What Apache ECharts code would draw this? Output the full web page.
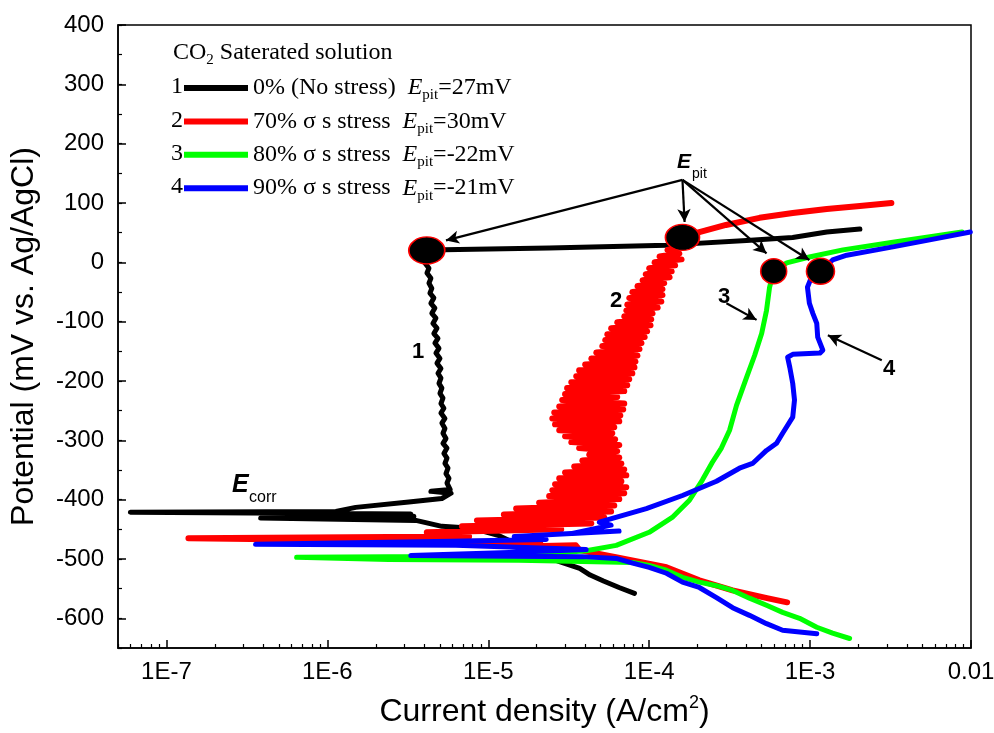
<!DOCTYPE html>
<html>
<head>
<meta charset="utf-8">
<script src="https://cdn.jsdelivr.net/npm/echarts@6/dist/echarts.min.js"></script>
<style>
  html, body { margin: 0; padding: 0; background: #fff; }
  #chart { width: 994px; height: 733px; }
</style>
</head>
<body>
<div id="chart"></div>
<script>
// polarization curves, points are [current density (A/cm2), potential (mV)] in scan order
const curve1 = [
  [8.1e-5,-558],[6.5e-5,-548],[5.2e-5,-537],[4.3e-5,-527],[3.7e-5,-516],
  [2.8e-5,-505],[1.8e-5,-485],[1.15e-5,-460],
  [7.9e-6,-448],[5.15e-6,-445],[4.28e-6,-440],[3.55e-6,-435],[3.85e-7,-431],[3.45e-6,-428],
  [4.2e-7,-426],[3.3e-6,-424],
  [5.97e-8,-421],[1.13e-6,-420],[1.5e-6,-413],[3.21e-6,-404],[5.15e-6,-398],[5.87e-6,-389],
  [4.4e-6,-386],[5.8e-6,-383],
  [5.79e-6,-381],[5.54e-6,-372],[5.7e-6,-364],[5.46e-6,-356],[5.62e-6,-347],[5.38e-6,-339],
  [5.54e-6,-330],[5.3e-6,-322],[5.54e-6,-313],[5.23e-6,-305],[5.46e-6,-297],[5.23e-6,-288],
  [5.38e-6,-280],[5.15e-6,-271],[5.38e-6,-263],[5.08e-6,-254],[5.3e-6,-246],[5.08e-6,-238],
  [5.23e-6,-229],[5.01e-6,-221],[5.15e-6,-212],[4.94e-6,-204],[5.08e-6,-195],[4.87e-6,-187],
  [5.08e-6,-179],[4.8e-6,-170],[5.01e-6,-162],[4.73e-6,-153],[4.94e-6,-145],[4.66e-6,-136],
  [4.87e-6,-128],[4.59e-6,-120],[4.8e-6,-111],[4.53e-6,-103],[4.73e-6,-94],[4.46e-6,-86],
  [4.66e-6,-77],[4.4e-6,-69],[4.59e-6,-60],[4.34e-6,-52],[4.46e-6,-44],[4.28e-6,-35],
  [4.4e-6,-27],[4.16e-6,-18],[4.28e-6,-10],[4.04e-6,-1],[4.16e-6,7],
  [4.15e-6,20],[5.3e-6,21],[2.39e-5,24],[1.28e-4,29],[4.03e-4,37],[7.79e-4,42],[1.27e-3,51],[2.04e-3,56]
];
const curve2 = [
  [7.2e-4,-573],[5.4e-4,-566],[3.3e-4,-553],[2.05e-4,-536],[1.28e-4,-514],[6.2e-5,-497],
  [3.7e-5,-485],[3.5e-5,-477],[1.6e-5,-479],[2.1e-5,-472],[1.37e-7,-465],
  [7.6e-6,-462],[4.15e-6,-455],[2.84e-5,-450],[6.86e-6,-445],[4.37e-5,-440],[8.5e-6,-435],
  [5.26e-5,-430],[1.25e-5,-425],[5.8e-5,-420],[1.49e-5,-415],[6.07e-5,-410],[2.07e-5,-405],
  [6.52e-5,-399],[2.39e-5,-394],[7.0e-5,-389],[2.5e-5,-384],[7.21e-5,-379],[2.6e-5,-374],
  [6.72e-5,-369],[2.76e-5,-364],[7.21e-5,-359],[3.0e-5,-354],[7.0e-5,-349],[3.42e-5,-344],
  [6.72e-5,-339],[3.84e-5,-334],[6.52e-5,-329],[4.24e-5,-324],[6.33e-5,-318],[3.67e-5,-313],
  [6.52e-5,-308],[3.28e-5,-303],[6.15e-5,-298],[3.0e-5,-293],[5.9e-5,-288],[2.76e-5,-283],
  [6.07e-5,-278],[2.6e-5,-273],[6.52e-5,-268],[2.5e-5,-263],[6.62e-5,-258],[2.57e-5,-253],
  [6.9e-5,-248],[2.76e-5,-243],[7.0e-5,-238],[2.88e-5,-232],[6.33e-5,-227],[3.0e-5,-222],
  [7.0e-5,-217],[3.09e-5,-212],[7.31e-5,-207],[3.28e-5,-202],[7.52e-5,-197],[3.52e-5,-192],
  [7.86e-5,-187],[3.67e-5,-182],[8.1e-5,-177],[4.0e-5,-172],[8.22e-5,-167],[4.37e-5,-162],
  [8.46e-5,-157],[4.69e-5,-152],[8.71e-5,-146],[5.11e-5,-141],[8.96e-5,-136],[5.33e-5,-131],
  [9.38e-5,-126],[5.49e-5,-121],[9.72e-5,-116],[5.8e-5,-111],[1.02e-4,-106],[6.33e-5,-101],
  [1.03e-4,-96],[7.0e-5,-91],[1.05e-4,-86],[7.21e-5,-81],[1.13e-4,-76],[7.31e-5,-71],
  [1.19e-4,-66],[7.52e-5,-60],[1.21e-4,-55],[7.86e-5,-50],[1.21e-4,-45],[8.46e-5,-40],
  [1.24e-4,-35],[9.1e-5,-30],[1.34e-4,-25],[9.52e-5,-20],[1.38e-4,-15],[1.0e-4,-10],
  [1.45e-4,-5],[1.08e-4,0],[1.59e-4,5],[1.16e-4,10],[1.54e-4,15],[1.3e-4,21],
  [1.59e-4,27],[1.45e-4,34],[1.63e-4,42],
  [2.05e-4,51],[3.0e-4,63],[4.85e-4,75],[7.8e-4,83],[1.27e-3,90],[2.04e-3,95],[3.2e-3,100]
];
const curve3 = [
  [1.76e-3,-634],[1.38e-3,-625],[1.1e-3,-615],[8.6e-4,-600],[6.75e-4,-590],[5.36e-4,-578],
  [4.2e-4,-566],[3.3e-4,-553],[2.62e-4,-545],[2.05e-4,-539],[1.61e-4,-531],[1.28e-4,-519],
  [1.0e-4,-511],[7.9e-5,-506],[1.55e-5,-502],[2.4e-6,-501],[6.44e-7,-497],[2.4e-6,-496],
  [1.35e-5,-496],[4.06e-5,-486],[6.24e-5,-477],[1.0e-4,-455],[1.39e-4,-430],[1.78e-4,-401],
  [2.14e-4,-367],[2.47e-4,-337],[2.81e-4,-313],[3.16e-4,-283],[3.49e-4,-241],[4.03e-4,-194],
  [4.52e-4,-157],[5.0e-4,-120],[5.36e-4,-81],[5.6e-4,-42],[5.94e-4,-15],
  [7.16e-4,-1],[9.9e-4,9],[1.6e-3,21],[3.27e-3,34],[8.8e-3,51]
];
const curve4 = [
  [1.1e-3,-626],[6.75e-4,-620],[5.36e-4,-609],[4.2e-4,-595],[3.3e-4,-582],[2.62e-4,-565],
  [2.05e-4,-548],[1.61e-4,-539],[1.28e-4,-524],[1.0e-4,-514],[7.9e-5,-507],[6.24e-5,-499],
  [3.84e-5,-496],[3.3e-6,-494],[1.35e-5,-489],[4.06e-5,-484],[6.28e-6,-477],[3.58e-7,-475],
  [5.95e-6,-470],[2.29e-5,-467],[1.45e-5,-462],[6.5e-5,-453],[3.33e-5,-457],[5.8e-5,-443],
  [4.9e-5,-438],[9.6e-5,-415],[1.61e-4,-393],[2.62e-4,-369],[3.64e-4,-347],[4.39e-4,-339],
  [5.36e-4,-317],[6.19e-4,-305],[6.75e-4,-288],[7.8e-4,-261],[8.0e-4,-232],[7.8e-4,-204],
  [7.48e-4,-177],[7.25e-4,-160],[7.8e-4,-155],[1.15e-3,-153],[1.2e-3,-148],[1.115e-3,-126],
  [1.1e-3,-103],[1.04e-3,-86],[9.9e-4,-69],[9.63e-4,-42],[1.02e-3,-25],[1.16e-3,-15],
  [1.38e-3,4],[1.69e-3,12],[3.27e-3,26],[5.33e-3,37],[9.9e-3,51]
];

const seriesNames = ['0% (No stress)', '70% σ s stress', '80% σ s stress', '90% σ s stress'];
const epitLabels = ['27mV', '30mV', '-22mV', '-21mV'];
const colors = ['#000000', '#ff0000', '#00ff00', '#0000ff'];
const lineWidths = [5, 6, 5, 5];

// pitting potential markers and the arrows pointing at them
const epitPoints = [[4.15e-6, 20], [1.61e-4, 42], [5.94e-4, -15], [1.16e-3, -15]];
const epitSizes = [[36, 27], [34, 26], [26, 25], [28, 26]];
const epitArrows = [
  [[1.61e-4, 139], [5.46e-6, 37]],
  [[1.61e-4, 139], [1.66e-4, 68]],
  [[1.61e-4, 139], [5.36e-4, 15]],
  [[1.61e-4, 139], [9.9e-4, 4]],
  [[3.02e-4, -69], [4.65e-4, -97]],
  [[2.79e-3, -165], [1.29e-3, -123]]
];

const yMajor = [-600, -500, -400, -300, -200, -100, 0, 100, 200, 300, 400];
const xMinor = [];
for (let e = -8; e <= -3; e++) {
  for (let k = 2; k <= 9; k++) xMinor.push(k * Math.pow(10, e));
}

const sans = '"Liberation Sans", Arial, sans-serif';
const serif = '"Liberation Serif", "Times New Roman", serif';
const axisColor = '#000';

const chart = echarts.init(document.getElementById('chart'));

const lineSeries = [curve1, curve2, curve3, curve4].map((d, i) => ({
  name: seriesNames[i],
  type: 'line',
  data: d,
  showSymbol: false,
  symbol: 'none',
  z: 2 + i,
  lineStyle: { color: colors[i], width: lineWidths[i], cap: 'round', join: 'round' },
  itemStyle: { color: colors[i] },
  emphasis: { disabled: true }
}));

chart.setOption({
  animation: false,
  backgroundColor: '#fff',
  grid: {
    left: 118, right: 23, top: 25, bottom: 85,
    show: true, borderColor: '#000', borderWidth: 1.5,
    containLabel: false, outerBoundsMode: 'none'
  },
  legend: {
    orient: 'vertical',
    left: 179,
    top: 68,
    itemGap: 3.4,
    itemWidth: 64,
    itemHeight: 6,
    icon: 'rect',
    selectedMode: false,
    data: seriesNames,
    formatter: name => name + '  {e|E}{s|pit}=' + epitLabels[seriesNames.indexOf(name)],
    textStyle: {
      fontFamily: serif, fontSize: 24, color: '#000', lineHeight: 30,
      rich: {
        e: { fontFamily: serif, fontSize: 24, fontStyle: 'italic', color: '#000', lineHeight: 30 },
        s: { fontFamily: serif, fontSize: 15, color: '#000', lineHeight: 15, verticalAlign: 'bottom' }
      }
    }
  },
  xAxis: [{
    type: 'log',
    logBase: 10,
    min: 5e-8,
    max: 0.01,
    name: 'Current density (A/cm{sup|2})',
    nameLocation: 'middle',
    nameGap: 46,
    nameTextStyle: {
      fontFamily: sans, fontSize: 32, color: '#000', lineHeight: 36,
      rich: { sup: { fontFamily: sans, fontSize: 18, color: '#000', lineHeight: 18, verticalAlign: 'top' } }
    },
    axisLine: { onZero: false, lineStyle: { color: axisColor, width: 1.5 } },
    axisTick: { inside: true, length: 8, lineStyle: { color: axisColor, width: 1.5 } },
    axisLabel: {
      showMinLabel: false,
      margin: 12,
      fontFamily: sans, fontSize: 24, color: '#000',
      formatter: v => {
        const e = Math.round(Math.log10(v));
        return e >= -2 ? '0.01' : '1E' + e;
      }
    },
    splitLine: { show: false }
  }, {
    type: 'log',
    logBase: 10,
    min: 5e-8,
    max: 0.01,
    position: 'bottom',
    axisLine: { show: false, onZero: false },
    axisLabel: { show: false },
    axisTick: { inside: true, length: 4, customValues: xMinor, lineStyle: { color: axisColor, width: 1.2 } },
    splitLine: { show: false }
  }],
  yAxis: [{
    type: 'value',
    min: -650,
    max: 400,
    interval: 50,
    name: 'Potential (mV vs. Ag/AgCl)',
    nameLocation: 'middle',
    nameGap: 78,
    nameTextStyle: { fontFamily: sans, fontSize: 32, color: '#000' },
    axisLine: { onZero: false, lineStyle: { color: axisColor, width: 1.5 } },
    axisTick: { inside: true, length: 4, lineStyle: { color: axisColor, width: 1.2 } },
    axisLabel: {
      margin: 14,
      fontFamily: sans, fontSize: 24, color: '#000',
      formatter: v => (v % 100 === 0 ? String(v) : '')
    },
    splitLine: { show: false }
  }, {
    type: 'value',
    min: -650,
    max: 400,
    interval: 50,
    position: 'left',
    axisLine: { show: false, onZero: false },
    axisLabel: { show: false },
    axisTick: { inside: true, length: 8, customValues: yMajor, lineStyle: { color: axisColor, width: 1.5 } },
    splitLine: { show: false }
  }],
  series: lineSeries.concat([{
    name: 'Epit',
    type: 'scatter',
    z: 10,
    data: epitPoints.map((p, i) => ({ value: p, symbolSize: epitSizes[i] })),
    itemStyle: { color: '#000', borderColor: '#ff0000', borderWidth: 1.5, opacity: 1 },
    emphasis: { disabled: true },
    markLine: {
      silent: true,
      symbol: ['none', 'arrow'],
      symbolSize: [10, 13],
      label: { show: false },
      lineStyle: { color: '#000', width: 2.2, type: 'solid' },
      emphasis: { disabled: true },
      data: epitArrows.map(a => [{ coord: a[0] }, { coord: a[1] }])
    }
  }]),
  graphic: [
    {
      type: 'text', left: 173, top: 38, z: 20,
      style: {
        text: 'CO{s|2} Saterated solution',
        fontFamily: serif, fontSize: 24, fill: '#000', lineHeight: 30,
        rich: { s: { fontFamily: serif, fontSize: 15, fill: '#000', lineHeight: 15, verticalAlign: 'bottom' } }
      }
    },
    ...['1', '2', '3', '4'].map((t, i) => ({
      type: 'text', x: 171, y: 87 + i * 33.4, z: 20,
      style: { text: t, fontFamily: serif, fontSize: 24, fill: '#000', align: 'left', verticalAlign: 'middle' }
    })),
    { type: 'text', x: 418, y: 352, z: 20, style: { text: '1', font: 'bold 22px ' + sans, fill: '#000', align: 'center', verticalAlign: 'middle' } },
    { type: 'text', x: 616, y: 301, z: 20, style: { text: '2', font: 'bold 22px ' + sans, fill: '#000', align: 'center', verticalAlign: 'middle' } },
    { type: 'text', x: 724, y: 297, z: 20, style: { text: '3', font: 'bold 22px ' + sans, fill: '#000', align: 'center', verticalAlign: 'middle' } },
    { type: 'text', x: 889, y: 369, z: 20, style: { text: '4', font: 'bold 22px ' + sans, fill: '#000', align: 'center', verticalAlign: 'middle' } },
    { type: 'text', x: 232, y: 485, z: 20, style: { text: 'E', font: 'italic bold 25px ' + sans, fill: '#000', align: 'left', verticalAlign: 'middle' } },
    { type: 'text', x: 249, y: 498, z: 20, style: { text: 'corr', font: '16px ' + sans, fill: '#000', align: 'left', verticalAlign: 'middle' } },
    { type: 'text', x: 677, y: 162, z: 20, style: { text: 'E', font: 'italic bold 21px ' + sans, fill: '#000', align: 'left', verticalAlign: 'middle' } },
    { type: 'text', x: 692, y: 174, z: 20, style: { text: 'pit', font: '14px ' + sans, fill: '#000', align: 'left', verticalAlign: 'middle' } }
  ]
});
</script>
</body>
</html>
